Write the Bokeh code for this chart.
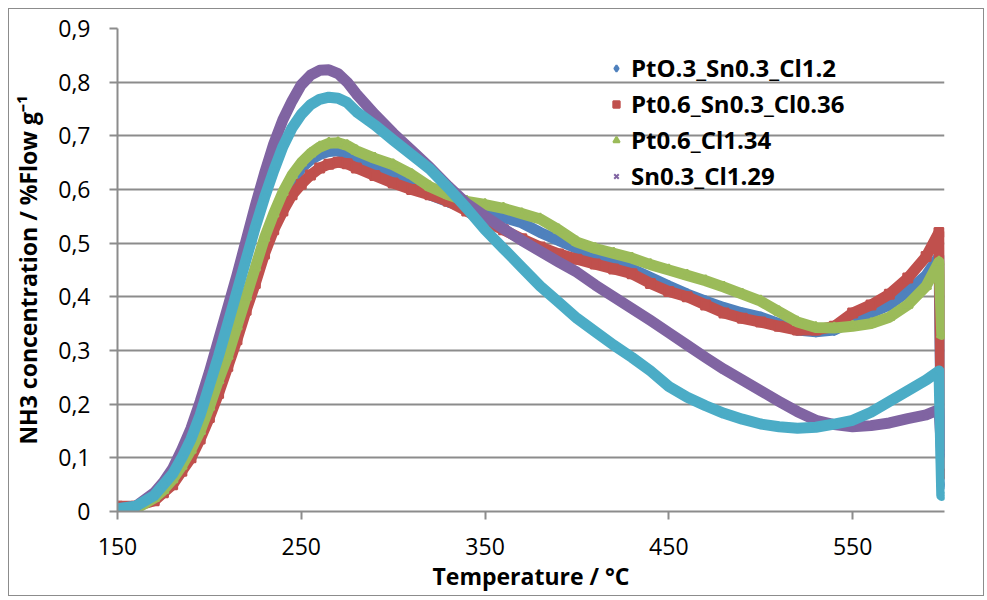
from bokeh.plotting import figure
from bokeh.models import (Range1d, FixedTicker, CustomJSTickFormatter, Legend,
                          LegendItem, ColumnDataSource)
from bokeh.embed import file_html
from bokeh.resources import INLINE

# ---------------- data ----------------
temperature = [150, 160, 170, 175, 180, 185, 190, 195, 200, 205, 210, 215, 220, 225,
               230, 235, 240, 245, 250, 255, 260, 265, 270, 275, 280, 290, 300, 310,
               320, 330, 340, 350, 360, 370, 380, 390, 400, 410, 420, 430, 440, 450,
               460, 470, 480, 490, 500, 510, 520, 530, 540, 550, 560, 570, 580, 590,
               597, 598.5]

pt03_sn03_cl12 = [0.0, 0.008, 0.025, 0.04, 0.06, 0.085, 0.115, 0.15, 0.19, 0.24, 0.285,
                  0.34, 0.39, 0.445, 0.5, 0.545, 0.585, 0.615, 0.64, 0.655, 0.665, 0.671,
                  0.672, 0.666, 0.655, 0.64, 0.625, 0.608, 0.59, 0.577, 0.565, 0.555,
                  0.548, 0.538, 0.52, 0.505, 0.49, 0.478, 0.465, 0.452, 0.436, 0.42,
                  0.405, 0.392, 0.38, 0.37, 0.362, 0.35, 0.338, 0.335, 0.338, 0.355,
                  0.37, 0.385, 0.41, 0.44, 0.475, 0.05]

pt06_sn03_cl036 = [0.01, 0.01, 0.02, 0.035, 0.05, 0.075, 0.1, 0.135, 0.175, 0.22, 0.27,
                   0.32, 0.375, 0.425, 0.48, 0.525, 0.56, 0.59, 0.61, 0.627, 0.64, 0.647,
                   0.651, 0.648, 0.64, 0.626, 0.612, 0.6, 0.59, 0.578, 0.56, 0.54, 0.525,
                   0.508, 0.493, 0.48, 0.47, 0.461, 0.452, 0.443, 0.425, 0.41, 0.4,
                   0.385, 0.37, 0.36, 0.353, 0.345, 0.338, 0.338, 0.345, 0.37, 0.385,
                   0.405, 0.435, 0.475, 0.52, 0.07]

pt06_cl134 = [0.0, 0.005, 0.025, 0.04, 0.06, 0.085, 0.115, 0.15, 0.195, 0.245, 0.29,
              0.345, 0.4, 0.455, 0.51, 0.555, 0.595, 0.627, 0.65, 0.667, 0.679, 0.686,
              0.687, 0.682, 0.672, 0.658, 0.646, 0.628, 0.605, 0.59, 0.578, 0.572,
              0.565, 0.555, 0.545, 0.525, 0.502, 0.49, 0.481, 0.472, 0.46, 0.45, 0.44,
              0.43, 0.418, 0.405, 0.392, 0.372, 0.353, 0.343, 0.342, 0.345, 0.35,
              0.362, 0.385, 0.42, 0.465, 0.33]

sn03_cl129 = [0.005, 0.01, 0.035, 0.055, 0.08, 0.115, 0.155, 0.205, 0.26, 0.32, 0.38,
              0.44, 0.505, 0.57, 0.63, 0.685, 0.73, 0.765, 0.795, 0.813, 0.822, 0.823,
              0.816, 0.8, 0.778, 0.74, 0.705, 0.673, 0.641, 0.606, 0.574, 0.55, 0.527,
              0.505, 0.485, 0.465, 0.446, 0.422, 0.4, 0.378, 0.356, 0.333, 0.31, 0.287,
              0.265, 0.245, 0.225, 0.205, 0.186, 0.17, 0.162, 0.158, 0.16, 0.165,
              0.173, 0.18, 0.19, 0.11]

fifth_series = [0.005, 0.01, 0.03, 0.05, 0.07, 0.1, 0.135, 0.18, 0.235, 0.29, 0.35,
                0.41, 0.47, 0.53, 0.585, 0.635, 0.68, 0.715, 0.74, 0.758, 0.768, 0.772,
                0.77, 0.762, 0.745, 0.72, 0.692, 0.665, 0.638, 0.603, 0.565, 0.525,
                0.49, 0.455, 0.42, 0.39, 0.36, 0.335, 0.31, 0.287, 0.262, 0.233, 0.213,
                0.197, 0.183, 0.172, 0.163, 0.158, 0.155, 0.157, 0.163, 0.17, 0.185,
                0.205, 0.225, 0.245, 0.262, 0.03]

series_names = ["PtO.3_Sn0.3_Cl1.2", "Pt0.6_Sn0.3_Cl0.36", "Pt0.6_Cl1.34", "Sn0.3_Cl1.29", None]
series_values = [pt03_sn03_cl12, pt06_sn03_cl036, pt06_cl134, sn03_cl129, fifth_series]

x_ticks = [150, 250, 350, 450, 550]
y_ticks = [0.0, 0.1, 0.2, 0.3, 0.4, 0.5, 0.6, 0.7, 0.8, 0.9]

# ---------------- styles ----------------
colors = ["#4F81BD", "#C0504D", "#9BBB59", "#8064A2", "#4BACC6"]
markers = ["diamond", "square", "triangle", "x", "asterisk"]
marker_sizes = [10, 9, 10, 8, 9]
FONT = "Open Sans"
GRID = "#8c8c8c"

p = figure(width=976, height=588,
           x_range=Range1d(150, 600), y_range=Range1d(0, 0.9),
           output_backend="svg", toolbar_location=None,
           min_border_left=107, min_border_right=41,
           min_border_top=19, min_border_bottom=86,
           styles={"border": "1px solid #8c8c8c", "margin": "8px 0 0 8px"})
p.outline_line_color = None
p.background_fill_color = "white"
p.border_fill_color = "white"

legend_items = []
for name, vals, c, m, ms in zip(series_names, series_values, colors, markers, marker_sizes):
    src = ColumnDataSource(dict(x=temperature, y=vals))
    p.line("x", "y", source=src, line_color=c, line_width=11,
           line_join="round", line_cap="round")
    r = p.scatter("x", "y", source=src, marker=m, size=ms,
                  fill_color=c, line_color=c, line_width=2)
    if name is not None:
        legend_items.append(LegendItem(label=name, renderers=[r]))

# axes
p.xaxis.ticker = FixedTicker(ticks=x_ticks)
p.yaxis.ticker = FixedTicker(ticks=y_ticks)
p.yaxis.formatter = CustomJSTickFormatter(
    code="return tick < 1e-9 ? '0' : tick.toFixed(1).replace('.', ',');")

for ax in (p.xaxis[0], p.yaxis[0]):
    ax.axis_line_color = GRID
    ax.axis_line_width = 2
    ax.major_tick_line_color = GRID
    ax.major_tick_line_width = 2
    ax.major_tick_out = 8
    ax.major_tick_in = 0
    ax.minor_tick_line_color = None
    ax.major_label_text_font = FONT
    ax.major_label_text_font_size = "23px"
    ax.major_label_text_color = "black"
    ax.axis_label_text_font = FONT
    ax.axis_label_text_font_size = "23px"
    ax.axis_label_text_font_style = "bold"
    ax.axis_label_text_color = "black"

p.xaxis.axis_label = "Temperature / °C"
p.yaxis.axis_label = "NH3 concentration / %Flow g⁻¹"
p.xaxis.major_label_standoff = 18
p.xaxis.axis_label_standoff = 2
p.yaxis.major_label_standoff = 19
p.yaxis.axis_label_standoff = 11

p.xgrid.visible = False
p.ygrid.grid_line_color = GRID
p.ygrid.grid_line_width = 2

legend = Legend(items=legend_items, location=(491, 319))
legend.label_text_font = FONT
legend.label_text_font_size = "24px"
legend.label_text_font_style = "bold"
legend.label_text_color = "black"
legend.glyph_width = 16
legend.glyph_height = 30
legend.label_height = 30
legend.label_standoff = 7
legend.spacing = 3
legend.padding = 0
legend.margin = 0
legend.border_line_alpha = 0
legend.background_fill_alpha = 0
p.add_layout(legend, "center")

open("out.html", "w").write(file_html(p, INLINE))
